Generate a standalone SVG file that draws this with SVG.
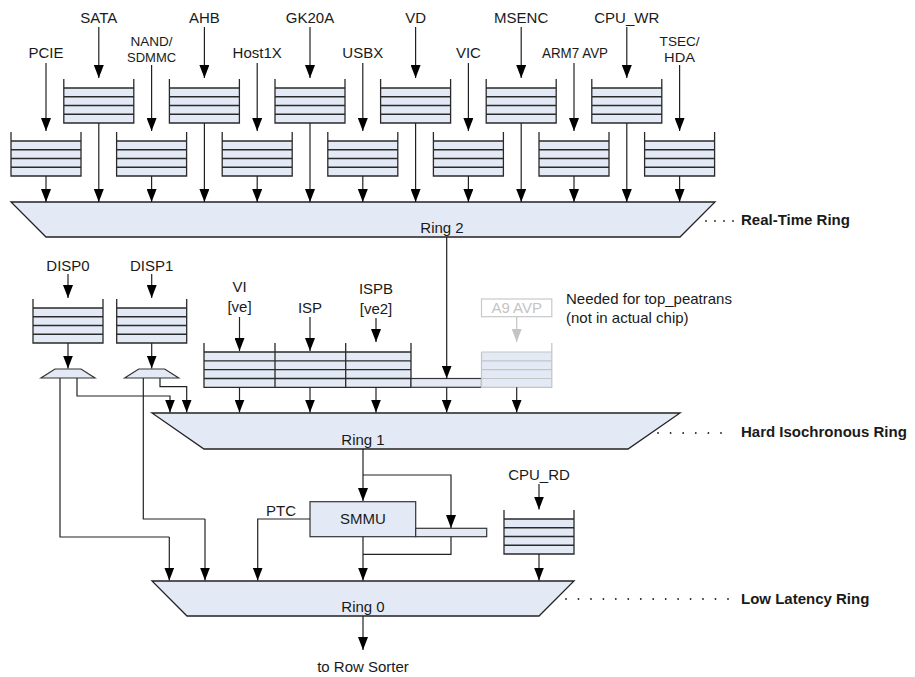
<svg xmlns="http://www.w3.org/2000/svg" xmlns:xlink="http://www.w3.org/1999/xlink" width="915" height="677" viewBox="0 0 915 677">
<style>
text{font-family:"Liberation Sans",Arial,sans-serif;font-size:15px;fill:#1a1a1a}
.c{text-anchor:middle}
.b{font-weight:bold}
.s{font-size:13.5px}
.fill{fill:#e4eaf5;stroke:none}
.box{fill:#e4eaf5;stroke:#333;stroke-width:1.2}
.ring{fill:#e4eaf5;stroke:#222;stroke-width:1.3}
.ql{fill:none;stroke:#2a2a2a;stroke-width:1.3}
.w{fill:none;stroke:#222;stroke-width:1.2}
.a{fill:none;stroke:#222;stroke-width:1.2;marker-end:url(#ah)}
.g{fill:none;stroke:#c4c4c4;stroke-width:1.2}
.ga{fill:none;stroke:#c4c4c4;stroke-width:1.2;marker-end:url(#gh)}
.dot{fill:#222}
</style>
<defs>
<marker id="ah" viewBox="0 0 13 10" refX="13" refY="5" markerWidth="13" markerHeight="10" markerUnits="userSpaceOnUse" orient="auto"><path d="M0,0L13,5L0,10z" fill="#000"/></marker>
<marker id="gh" viewBox="0 0 13 10" refX="13" refY="5" markerWidth="13" markerHeight="10" markerUnits="userSpaceOnUse" orient="auto"><path d="M0,0L13,5L0,10z" fill="#c4c4c4"/></marker>
<g id="queue">
<rect class="fill" x="0" y="9" width="70" height="35"/>
<path class="ql" d="M0,0V44H70V0M0,9H70M0,17.75H70M0,26.5H70M0,35.25H70"/>
</g>
</defs>

<!-- Real-time ring sources -->
<g id="PCIE"><text class="c" x="46" y="58">PCIE</text><use xlink:href="#queue" x="11" y="132"/></g>
<g id="SATA"><text class="c" x="98.8" y="23">SATA</text><use xlink:href="#queue" x="63.8" y="79"/></g>
<g id="NAND"><text class="c s" x="151.6" y="46" textLength="42" lengthAdjust="spacingAndGlyphs">NAND/</text><text class="c s" x="151.6" y="62" textLength="49" lengthAdjust="spacingAndGlyphs">SDMMC</text><use xlink:href="#queue" x="116.6" y="132"/></g>
<g id="AHB"><text class="c" x="204.4" y="23">AHB</text><use xlink:href="#queue" x="169.4" y="79"/></g>
<g id="Host1X"><text class="c" x="257.2" y="58">Host1X</text><use xlink:href="#queue" x="222.2" y="132"/></g>
<g id="GK20A"><text class="c" x="310" y="23">GK20A</text><use xlink:href="#queue" x="275" y="79"/></g>
<g id="USBX"><text class="c" x="362.8" y="58">USBX</text><use xlink:href="#queue" x="327.8" y="132"/></g>
<g id="VD"><text class="c" x="415.6" y="23">VD</text><use xlink:href="#queue" x="380.6" y="79"/></g>
<g id="VIC"><text class="c" x="468.4" y="58">VIC</text><use xlink:href="#queue" x="433.4" y="132"/></g>
<g id="MSENC"><text class="c" x="521.2" y="23">MSENC</text><use xlink:href="#queue" x="486.2" y="79"/></g>
<g id="ARM7AVP"><text class="c" x="575" y="58" textLength="66" lengthAdjust="spacingAndGlyphs">ARM7 AVP</text><use xlink:href="#queue" x="539" y="132"/></g>
<g id="CPU_WR"><text class="c" x="626.8" y="23">CPU_WR</text><use xlink:href="#queue" x="591.8" y="79"/></g>
<g id="TSEC"><text class="c s" x="679.6" y="46" textLength="40" lengthAdjust="spacingAndGlyphs">TSEC/</text><text class="c s" x="679.6" y="62" textLength="31" lengthAdjust="spacingAndGlyphs">HDA</text><use xlink:href="#queue" x="644.6" y="132"/></g>

<!-- Ring 2 -->
<g id="ring2">
<polygon class="ring" points="11,202 715,202 680,237 46,237"/>
<text class="c" x="442" y="233">Ring 2</text>
<g class="dot"><circle cx="706" cy="221" r="0.9"/><circle cx="715" cy="221" r="0.9"/><circle cx="724" cy="221" r="0.9"/><circle cx="733" cy="221" r="0.9"/></g>
<text class="b" x="741" y="225">Real-Time Ring</text>
</g>

<!-- Display -->
<g id="DISP0"><text class="c" x="68" y="271">DISP0</text><use xlink:href="#queue" x="33" y="299"/><polygon class="box" points="55,369 81,369 95,378 41,378"/></g>
<g id="DISP1"><text class="c" x="151.7" y="271">DISP1</text><use xlink:href="#queue" x="116.7" y="299"/><polygon class="box" points="138.7,369 164.7,369 178.7,378 124.7,378"/></g>

<!-- Isochronous sources -->
<g id="VI"><text class="c" x="239.5" y="292">VI</text><text class="c" x="239.5" y="312">[ve]</text></g>
<g id="ISP"><text class="c" x="310" y="313">ISP</text></g>
<g id="ISPB"><text class="c" x="376" y="294">ISPB</text><text class="c" x="376" y="314">[ve2]</text></g>
<g id="isoQueues">
<rect class="fill" x="204" y="352" width="207" height="35.3"/>
<path class="ql" d="M204,343V387.3H411V343M275,343V387.3M345.7,343V387.3M204,352H411M204,360.8H411M204,369.6H411M204,378.5H411"/>
<rect class="box" x="411" y="378.5" width="70.5" height="8.8"/>
</g>
<g id="A9AVP">
<rect x="481.5" y="299" width="70.3" height="17.7" fill="#fff" stroke="#c8c8c8" stroke-width="1.2"/>
<text class="c" x="516.7" y="313" style="fill:#c4c4c4">A9 AVP</text>
<rect class="fill" x="481.5" y="352" width="70.3" height="35.3"/>
<path class="g" d="M481.5,352V387.3H551.8V343M481.5,352H551.8M481.5,360.8H551.8M481.5,369.6H551.8M481.5,378.5H551.8"/>
</g>
<g id="note"><text x="566" y="304">Needed for top_peatrans</text><text x="566" y="323">(not in actual chip)</text></g>

<!-- Ring 1 -->
<g id="ring1">
<polygon class="ring" points="152,413 680,413 628,449 204,449"/>
<text class="c" x="363" y="445">Ring 1</text>
<g class="dot"><circle cx="658" cy="433" r="0.9"/><circle cx="670.6" cy="433" r="0.9"/><circle cx="683.2" cy="433" r="0.9"/><circle cx="695.8" cy="433" r="0.9"/><circle cx="708.4" cy="433" r="0.9"/><circle cx="721" cy="433" r="0.9"/></g>
<text class="b" x="741" y="437">Hard Isochronous Ring</text>
</g>

<!-- SMMU -->
<g id="SMMU">
<rect class="box" x="310" y="501.7" width="105.7" height="35"/>
<text class="c" x="363" y="524">SMMU</text>
<rect class="box" x="415.7" y="528.3" width="71" height="8.4"/>
</g>
<g id="PTC"><text class="c" x="281" y="516">PTC</text></g>
<g id="CPU_RD"><text class="c" x="539" y="480">CPU_RD</text><use xlink:href="#queue" x="504" y="510"/></g>

<!-- Ring 0 -->
<g id="ring0">
<polygon class="ring" points="152,581 574,581 539,616 187,616"/>
<text class="c" x="363" y="612">Ring 0</text>
<g class="dot"><circle cx="566" cy="599" r="0.9"/><circle cx="578.5" cy="599" r="0.9"/><circle cx="591" cy="599" r="0.9"/><circle cx="603.4" cy="599" r="0.9"/><circle cx="615.8" cy="599" r="0.9"/><circle cx="628.3" cy="599" r="0.9"/><circle cx="640.8" cy="599" r="0.9"/><circle cx="653.2" cy="599" r="0.9"/><circle cx="665.7" cy="599" r="0.9"/><circle cx="678.1" cy="599" r="0.9"/><circle cx="690.6" cy="599" r="0.9"/><circle cx="703" cy="599" r="0.9"/><circle cx="715.5" cy="599" r="0.9"/><circle cx="728" cy="599" r="0.9"/></g>
<text class="b" x="741" y="604">Low Latency Ring</text>
</g>
<g id="sorter"><text class="c" x="363" y="672">to Row Sorter</text></g>

<!-- Connectors -->
<g id="connectors">
<!-- inputs to top queues -->
<path class="a" d="M98.8,27V78"/><path class="a" d="M204.4,27V78"/><path class="a" d="M310,27V78"/><path class="a" d="M415.6,27V78"/><path class="a" d="M521.2,27V78"/><path class="a" d="M626.8,27V78"/>
<path class="a" d="M46,63V131"/><path class="a" d="M151.6,65V131"/><path class="a" d="M257.2,63V131"/><path class="a" d="M362.8,63V131"/><path class="a" d="M468.4,63V131"/><path class="a" d="M574,63V131"/><path class="a" d="M679.6,65V131"/>
<!-- queues to Ring 2 -->
<path class="a" d="M46,176V202"/><path class="a" d="M151.6,176V202"/><path class="a" d="M257.2,176V202"/><path class="a" d="M362.8,176V202"/><path class="a" d="M468.4,176V202"/><path class="a" d="M574,176V202"/><path class="a" d="M679.6,176V202"/>
<path class="a" d="M98.8,123V202"/><path class="a" d="M204.4,123V202"/><path class="a" d="M310,123V202"/><path class="a" d="M415.6,123V202"/><path class="a" d="M521.2,123V202"/><path class="a" d="M626.8,123V202"/>
<!-- Ring 2 to iso strip -->
<path class="a" d="M446.7,237V378.5"/>
<!-- display -->
<path class="a" d="M68,274V298"/><path class="a" d="M151.7,274V298"/>
<path class="a" d="M68,343V368.5"/><path class="a" d="M151.7,343V368.5"/>
<path class="a" d="M77,378V396H170V412.5"/>
<path class="a" d="M160,378V386.7H186.7V412.5"/>
<path class="w" d="M60,378V537H169.3"/><path class="a" d="M169.3,537V580.5"/>
<path class="w" d="M143.3,378V519H205"/><path class="a" d="M205,519V580.5"/>
<!-- iso inputs -->
<path class="a" d="M239.5,317V351"/><path class="a" d="M310,317V351"/><path class="a" d="M376,318V342"/>
<path class="ga" d="M516.7,317V342"/>
<!-- iso to Ring 1 -->
<path class="a" d="M239.5,387.3V412.5"/><path class="a" d="M310,387.3V412.5"/><path class="a" d="M376,387.3V412.5"/><path class="a" d="M446.7,387.3V412.5"/><path class="a" d="M516.7,387.3V412.5"/>
<!-- Ring 1 to SMMU -->
<path class="a" d="M363,449V501"/>
<path class="a" d="M363,475H451V528"/>
<path class="w" d="M451,536.7V554.3H363"/>
<path class="a" d="M363,536.7V580.5"/>
<path class="a" d="M310,519H257.7V580.5"/>
<!-- CPU_RD -->
<path class="a" d="M539,484V509.5"/><path class="a" d="M539,554V580.5"/>
<!-- Ring 0 out -->
<path class="a" d="M363,616V650"/>
</g>
</svg>
